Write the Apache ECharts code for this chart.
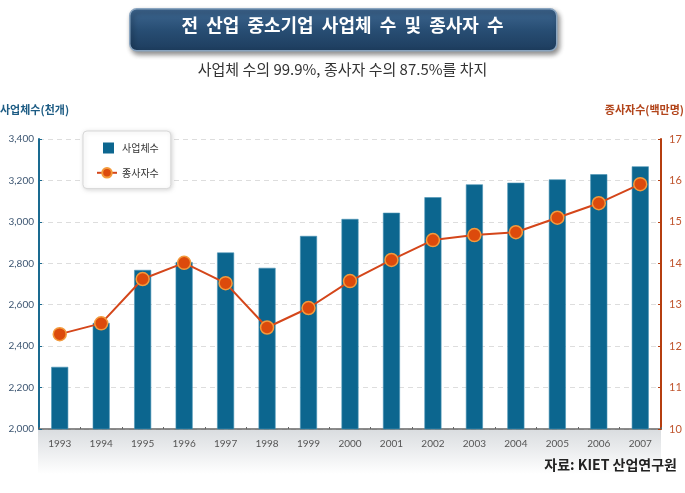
<!DOCTYPE html>
<html><head><meta charset="utf-8">
<script src="https://cdn.jsdelivr.net/npm/echarts@6/dist/echarts.min.js"></script>
<style>html,body{margin:0;padding:0;background:#fff}#c{width:685px;height:493px}</style>
</head><body><div id="c"></div>
<script>
const years = ['1993','1994','1995','1996','1997','1998','1999','2000','2001','2002','2003','2004','2005','2006','2007'];
const firms = [2300, 2512, 2768, 2806, 2852, 2778, 2932, 3014, 3044, 3119, 3181, 3189, 3205, 3230, 3268];
const workers = [12.29, 12.55, 13.62, 14.01, 13.52, 12.45, 12.92, 13.57, 14.08, 14.56, 14.68, 14.75, 15.10, 15.45, 15.91];
const leftTicks = {min: 2000, max: 3400, interval: 200};
const rightTicks = {min: 10, max: 17, interval: 1};
const titleText = '전  산업  중소기업  사업체  수  및  종사자  수';
const subText = '사업체 수의 99.9%, 종사자 수의 87.5%를 차지';
const sourceText = '자료: KIET 산업연구원';
const KR = '"Noto Sans CJK KR", "Noto Sans", sans-serif';
const NUM = 'Lato, "Noto Sans", sans-serif';

const chart = echarts.init(document.getElementById('c'), null, {renderer: 'canvas'});
chart.setOption({
  backgroundColor: '#fff',
  animation: false,
  grid: {left: 39, right: 24, top: 139, bottom: 64, containLabel: false},
  graphic: [
    {type: 'rect', left: 38, top: 430, shape: {width: 623, height: 44}, z: 0,
     style: {fill: new echarts.graphic.LinearGradient(0,0,0,1,[{offset:0,color:'#dadde0'},{offset:1,color:'#ffffff'}])}},
    {type: 'rect', left: 129, top: 8, shape: {width: 427, height: 42, r: 7}, z: 10,
     style: {fill: new echarts.graphic.LinearGradient(0,0,0,1,[{offset:0,color:'#3f6892'},{offset:0.5,color:'#284e74'},{offset:1,color:'#1d3c5d'}]),
             stroke: '#8aa5c0', lineWidth: 1.5, shadowBlur: 5, shadowOffsetX: 2, shadowOffsetY: 3, shadowColor: 'rgba(0,0,0,0.45)'}},
    {type: 'text', left: 'center', top: 16, z: 11,
     style: {text: titleText, fill: '#ffffff', font: 'bold 18px ' + KR}},
    {type: 'text', left: 'center', top: 62, z: 11,
     style: {text: subText, fill: '#333333', font: '15px ' + KR}},
    {type: 'text', right: 8, top: 458, z: 11,
     style: {text: sourceText, fill: '#222222', font: 'bold 14px ' + KR}},
    {type: 'text', left: 0, top: 104, z: 11,
     style: {text: '사업체수(천개)', fill: '#1d5c84', font: 'bold 11px ' + KR}},
    {type: 'text', right: 1, top: 104, z: 11,
     style: {text: '종사자수(백만명)', fill: '#b2441a', font: 'bold 11px ' + KR}}
  ],
  legend: {
    orient: 'vertical', left: 83, top: 131, itemGap: 13, itemWidth: 20, itemHeight: 12,
    padding: [11, 12, 10, 13],
    backgroundColor: '#fff', borderColor: '#d8d8d8', borderWidth: 1, borderRadius: 4,
    shadowBlur: 4, shadowColor: 'rgba(0,0,0,0.15)', shadowOffsetX: 1, shadowOffsetY: 1,
    textStyle: {fontFamily: KR, fontSize: 10, color: '#333'},
    data: [
      {name: '사업체수', icon: 'path://M0,0L0.01,0L0.01,0.01ZM6,0.5L17,0.5L17,11.5L6,11.5ZM20,12L20.01,12L20.01,11.99Z',
       itemStyle: {color: '#0c668f', borderWidth: 0, borderColor: 'transparent'}},
      {name: '종사자수'}
    ]
  },
  xAxis: {
    type: 'category', data: years,
    axisLine: {lineStyle: {color: '#666', width: 1.5}},
    axisTick: {show: true, inside: true, length: 2, lineStyle: {color: '#666'}},
    axisLabel: {color: '#555', fontFamily: NUM, fontSize: 10, margin: 10}
  },
  yAxis: [
    {type: 'value', min: leftTicks.min, max: leftTicks.max, interval: leftTicks.interval,
     axisLine: {show: true, lineStyle: {color: '#1a6a90', width: 2}},
     axisTick: {show: true, inside: true, length: 3, lineStyle: {color: '#1a6a90'}},
     axisLabel: {color: '#3d5672', fontFamily: NUM, fontSize: 10, margin: 5,
                 formatter: v => v.toLocaleString('en-US')},
     splitLine: {show: true, lineStyle: {color: '#dddddd', type: [5, 4]}}},
    {type: 'value', min: rightTicks.min, max: rightTicks.max, interval: rightTicks.interval,
     axisLine: {show: true, lineStyle: {color: '#b53d0f', width: 2}},
     axisTick: {show: true, inside: true, length: 3, lineStyle: {color: '#b53d0f'}},
     axisLabel: {color: '#c0552e', fontFamily: NUM, fontSize: 11, margin: 8},
     splitLine: {show: false}}
  ],
  series: [
    {name: '사업체수', type: 'bar', yAxisIndex: 0, data: firms, barWidth: 17, z: 2,
     itemStyle: {color: '#0c668f', borderColor: '#4a93b5', borderWidth: 0.6}},
    {name: '종사자수', type: 'line', yAxisIndex: 1, data: workers, z: 3,
     symbol: 'circle', symbolSize: 13,
     lineStyle: {color: '#d4461a', width: 2},
     itemStyle: {color: '#dc4a0c', borderColor: '#f39a3c', borderWidth: 1.5}}
  ]
});
</script></body></html>
